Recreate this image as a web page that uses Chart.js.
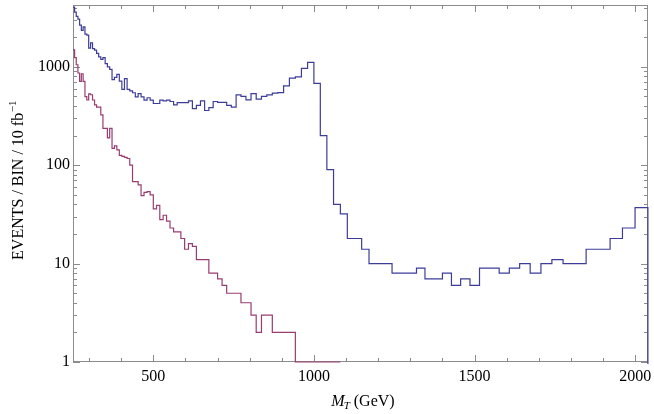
<!DOCTYPE html>
<html>
<head>
<meta charset="utf-8">
<script src="https://cdn.jsdelivr.net/npm/chart.js@4.4.1/dist/chart.umd.min.js"></script>
<style>
    html, body { margin: 0; padding: 0; background: #fff; }
    canvas { display: block; }
</style>
</head>
<body>
<canvas id="mtChart" width="654" height="414"></canvas>
<script>
// bin edges in GeV (log bins, left edge of each bin; last entry closes the last bin)
const binEdges = [
    250, 255, 260.1, 265.3, 270.6, 276.0, 281.5, 287.2, 292.9, 298.8,
    304.7, 310.8, 317.1, 323.4, 329.9, 336.5, 343.2, 350.1, 357.1, 364.2,
    371.5, 378.9, 386.5, 394.2, 402.1, 410.2, 418.4, 426.7, 435.3, 444.0,
    452.8, 461.9, 471.1, 480.6, 490.2, 500.0, 510.0, 520.2, 530.6, 541.2,
    552.0, 563.1, 574.3, 585.8, 597.5, 609.5, 621.7, 634.1, 646.8, 659.7,
    672.9, 686.4, 700.1, 714.1, 728.4, 742.9, 757.8, 772.9, 788.4, 804.2,
    820.3, 836.7, 853.4, 870.5, 887.9, 905.6, 923.7, 942.2, 961.1, 980.3,
    999.9, 1019.9, 1040.3, 1061.1, 1082.3, 1104.0, 1126.0, 1148.6, 1171.5, 1195.0,
    1218.9, 1243.2, 1268.1, 1293.5, 1319.3, 1345.7, 1372.6, 1400.1, 1428.1, 1456.7,
    1485.8, 1515.5, 1545.8, 1576.7, 1608.3, 1640.4, 1673.2, 1706.7, 1740.8, 1775.6,
    1811.2, 1847.4, 1884.3, 1922.0, 1960.5, 1999.7, 2039.7, 2080.5
];

// signal + background (blue), events per bin; last bin is empty (drawn below the axis)
const signalEvents = [
    4050, 3600, 3250, 3050, 2650, 2350, 2550, 2150, 2100, 1550,
    1750, 1530, 1480, 1370, 1260, 1190, 1240, 1080, 1000, 940,
    740, 780, 840, 715, 590, 760, 590, 570, 545, 495,
    535, 495, 458, 485, 458, 424, 424, 458, 450, 458,
    444, 411, 433, 433, 433, 450, 376, 405, 450, 360,
    385, 444, 435, 435, 405, 390, 519, 500, 462, 535,
    470, 500, 519, 540, 548, 641, 767, 790, 965, 1110,
    680, 200, 90, 40, 32, 18, 18, 14, 10, 10,
    10, 8, 8, 8, 9, 7, 7, 8, 6, 7,
    6, 9, 9, 8, 9, 10, 8, 10, 11, 10,
    10, 14, 14, 18, 23, 37, 0.1
];

// background only (magenta)
const backgroundEvents = [
    1490, 1240, 1050, 865, 710, 850, 710, 497, 460, 530,
    520, 460, 410, 390, 390, 325, 237, 237, 190, 237,
    148, 157, 143, 126, 123, 120, 117, 100, 68, 68,
    63, 49, 53, 54, 50, 36, 39, 28, 31, 27,
    23, 21, 21, 18, 14, 16, 15, 11, 11, 11,
    8, 8, 7, 6, 5, 5, 5, 4, 4, 3,
    2, 3, 3, 2, 2, 2, 2, 1, 1, 1,
    1, 1, 1, 1
];

const xTicks = [
    300, 400, 500, 600, 700, 800, 900, 1000, 1100, 1200,
    1300, 1400, 1500, 1600, 1700, 1800, 1900, 2000
];
const xLabelValues = [500, 1000, 1500, 2000];
const yLabelValues = [1, 10, 100, 1000];

const serif = "'Liberation Serif', 'Times New Roman', serif";
const frameColor = '#8c8c8c';

// histogram -> step points (value holds from its left edge to the next edge)
function toSteps(values) {
    const pts = values.map((v, i) => ({ x: binEdges[i], y: v }));
    pts.push({ x: binEdges[values.length], y: values[values.length - 1] });
    return pts;
}

const framePlugin = {
    id: 'mathFrame',
    beforeDatasetsDraw(chart) {
        const { ctx, chartArea: a, scales } = chart;
        ctx.save();
        ctx.strokeStyle = frameColor;
        ctx.lineWidth = 1;
        ctx.strokeRect(Math.round(a.left) + 0.5, Math.round(a.top) + 0.5,
            Math.round(a.right - a.left) - 1, Math.round(a.bottom - a.top) - 1);

        // inward ticks, mirrored on top / right
        ctx.beginPath();
        scales.x.ticks.forEach(t => {
            const v = t.value;
            const len = xLabelValues.includes(v) ? 7 : 4;
            const px = Math.round(scales.x.getPixelForValue(v)) + 0.5;
            ctx.moveTo(px, a.bottom); ctx.lineTo(px, a.bottom - len);
            ctx.moveTo(px, a.top); ctx.lineTo(px, a.top + len);
        });
        scales.y.ticks.forEach(t => {
            const v = t.value;
            const m = v / Math.pow(10, Math.floor(Math.log10(v) + 1e-9));
            if (Math.abs(m - Math.round(m)) > 1e-6) return;
            const len = Math.round(m) === 1 ? 7 : 4;
            const py = Math.round(scales.y.getPixelForValue(v)) + 0.5;
            ctx.moveTo(a.left, py); ctx.lineTo(a.left + len, py);
            ctx.moveTo(a.right, py); ctx.lineTo(a.right - len, py);
        });
        ctx.stroke();
        ctx.restore();
    },
    afterDraw(chart) {
        const { ctx, chartArea: a } = chart;
        ctx.save();
        ctx.fillStyle = '#000';
        ctx.textBaseline = 'alphabetic';

        // x title: M_T (GeV)
        const big = '16px ' + serif, bigIt = 'italic 16px ' + serif, small = 'italic 11px ' + serif;
        ctx.font = bigIt; const wM = ctx.measureText('M').width;
        ctx.font = small; const wT = ctx.measureText('T').width;
        ctx.font = big; const wR = ctx.measureText(' (GeV)').width;
        const x0 = (a.left + a.right) / 2 - (wM + wT + wR) / 2 + 3;
        const base = 406;
        ctx.font = bigIt; ctx.fillText('M', x0, base);
        ctx.font = small; ctx.fillText('T', x0 + wM - 1, base + 3);
        ctx.font = big; ctx.fillText(' (GeV)', x0 + wM + wT - 1, base);

        // y title: EVENTS / BIN / 10 fb^-1
        const main = 'EVENTS / BIN / 10 fb', sup = '\u22121';
        ctx.font = big; const wMain = ctx.measureText(main).width;
        ctx.font = '11px ' + serif; const wSup = ctx.measureText(sup).width;
        ctx.translate(23, (a.top + a.bottom) / 2 - 3);
        ctx.rotate(-Math.PI / 2);
        const s0 = -(wMain + wSup) / 2;
        ctx.font = big; ctx.fillText(main, s0, 0);
        ctx.font = '11px ' + serif; ctx.fillText(sup, s0 + wMain + 0.5, -7);
        ctx.restore();
    }
};

new Chart(document.getElementById('mtChart'), {
    type: 'line',
    data: {
        datasets: [
            {
                label: 'signal + background',
                data: toSteps(signalEvents),
                borderColor: 'rgb(61, 61, 153)',
                borderWidth: 1.2,
                stepped: true,
                fill: false,
                pointRadius: 0,
                clip: 2
            },
            {
                label: 'background',
                data: toSteps(backgroundEvents),
                borderColor: 'rgb(153, 61, 113)',
                borderWidth: 1.2,
                stepped: true,
                fill: false,
                pointRadius: 0,
                clip: 2
            }
        ]
    },
    options: {
        responsive: false,
        animation: false,
        layout: { padding: { left: 0, right: 6, top: 5, bottom: 0 } },
        plugins: {
            legend: { display: false },
            tooltip: { enabled: false }
        },
        scales: {
            x: {
                type: 'linear',
                min: 250,
                max: 2040,
                grid: { display: false, drawTicks: false },
                border: { display: false },
                afterBuildTicks: s => { s.ticks = xTicks.map(v => ({ value: v })); },
                ticks: {
                    autoSkip: false,
                    maxRotation: 0,
                    padding: 5,
                    color: '#000',
                    font: { family: serif, size: 16 },
                    callback: v => xLabelValues.includes(v) ? String(v) : ''
                },
                afterFit: s => { s.height = 52; s.paddingLeft = 0; s.paddingRight = 0; }
            },
            y: {
                type: 'logarithmic',
                min: 1,
                max: 4250,
                grid: { display: false, drawTicks: false },
                border: { display: false },
                ticks: {
                    autoSkip: false,
                    padding: 3,
                    color: '#000',
                    font: { family: serif, size: 16 },
                    callback: v => yLabelValues.includes(v) ? String(v) : ''
                },
                afterFit: s => { s.width = 73; s.paddingTop = 0; s.paddingBottom = 0; }
            }
        }
    },
    plugins: [framePlugin]
});
</script>
</body>
</html>
